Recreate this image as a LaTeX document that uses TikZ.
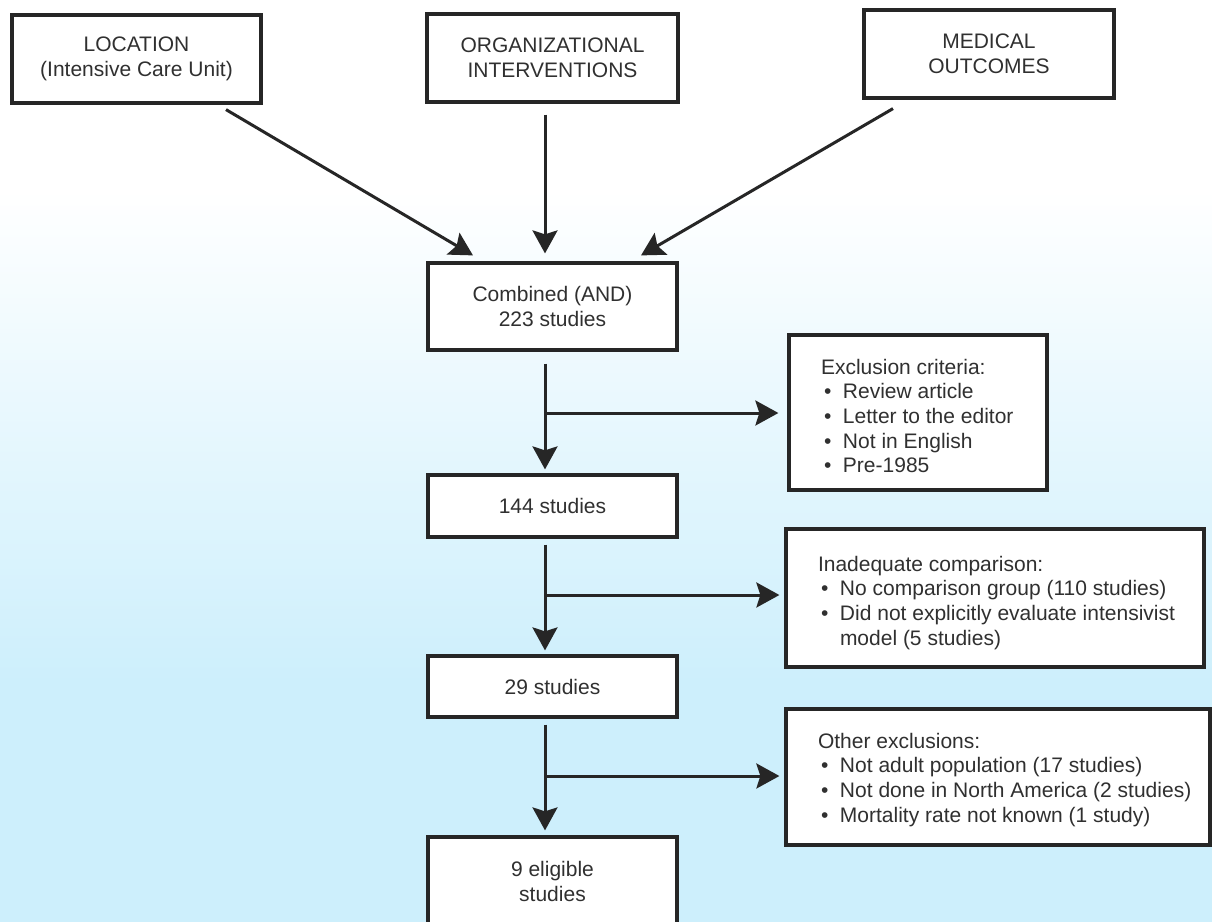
\documentclass[tikz,border=0pt]{standalone}
\usepackage{fontspec}
\setmainfont{Liberation Sans}
\usetikzlibrary{arrows.meta}
\definecolor{bgblue}{RGB}{205,239,252}
\definecolor{ink}{RGB}{38,38,38}
\definecolor{txt}{RGB}{48,48,48}
% bullet line with a fixed indent, never broken
\newcommand\bitem[1]{\mbox{\makebox[11pt][l]{\hspace{1.5pt}\textbullet}#1}}
% top-aligned text block of fixed height: height, width, top gap, body
\newcommand\listbox[4]{\begin{minipage}[c][#1][t]{#2}\fontsize{10.5pt}{12.3pt}\selectfont\vspace*{#3}#4\end{minipage}}
\begin{document}
\begin{tikzpicture}[x=0.5pt,y=-0.5pt,
  box/.style={draw=ink, line width=1.6pt, fill=white, text=txt, inner sep=0pt,
    align=center, font=\fontsize{10.5pt}{12.5pt}\selectfont},
  listnode/.style={draw=ink, line width=1.6pt, fill=white, text=txt,
    inner xsep=16pt, inner ysep=0pt},
  arr/.style={draw=ink, line width=1.5pt,
    -{Stealth[length=11.5pt,width=12.5pt,inset=2pt]}},
]
\useasboundingbox (0,0) rectangle (1212,922);
% background: white above, fading into pale blue below
\fill[white] (0,0) rectangle (1212,192);
\shade[top color=white, bottom color=bgblue] (0,190) rectangle (1212,682);
\fill[bgblue] (0,680) rectangle (1212,922);

% search terms
\node[box, minimum width=124.5pt, minimum height=44pt] (loc) at (136.5,59) {LOCATION\\(Intensive Care Unit)};
\node[box, minimum width=125.5pt, minimum height=44pt] (org) at (552.5,58) {ORGANIZATIONAL\\INTERVENTIONS};
\node[box, minimum width=125pt, minimum height=44pt] (med) at (989,54) {MEDICAL\\OUTCOMES};

% main column
\node[box, minimum width=124.5pt, minimum height=43.5pt] (comb) at (552.5,306.5) {Combined (AND)\\223 studies};
\node[box, minimum width=124.5pt, minimum height=31pt] (s144) at (552.5,506) {144 studies};
\node[box, minimum width=124.5pt, minimum height=30.5pt] (s29) at (552.5,686.5) {29 studies};
\node[box, minimum width=124.5pt, minimum height=44.5pt] (s9) at (552.5,881.5) {9 eligible\\studies};

% exclusion boxes
\node[listnode] (excl) at (918,412.5) {\listbox{77.5pt}{97pt}{12pt}{%
  Exclusion criteria:\\
  \bitem{Review article}\\
  \bitem{Letter to the editor}\\
  \bitem{Not in English}\\
  \bitem{Pre-1985}}};
\node[listnode] (inad) at (995,598) {\listbox{69pt}{177pt}{13.5pt}{%
  Inadequate comparison:\\
  \bitem{No comparison group (110 studies)}\\
  \bitem{Did not explicitly evaluate intensivist}\\
  \hspace*{11pt}model (5 studies)}};
\node[listnode] (other) at (998,777) {\listbox{68pt}{180pt}{12pt}{%
  Other exclusions:\\
  \bitem{Not adult population (17 studies)}\\
  \bitem{Not done in North America (2 studies)}\\
  \bitem{Mortality rate not known (1 study)}}};

% inputs into the combined search
\draw[arr] ([xshift=44.75pt,yshift=-2.5pt]loc.south) -- ([xshift=-39.75pt,yshift=3pt]comb.north);
\draw[arr] ([xshift=-3.75pt,yshift=-5.5pt]org.south) -- ([xshift=-3.75pt,yshift=4pt]comb.north);
\draw[arr] ([xshift=-48pt,yshift=-4.5pt]med.south) -- ([xshift=44.25pt,yshift=3pt]comb.north);

% spine with side branches
\draw[arr] ([xshift=-3.75pt,yshift=-6pt]comb.south) -- ([xshift=-3.75pt,yshift=2pt]s144.north);
\draw[arr] ([xshift=-3.75pt,yshift=-3pt]s144.south) -- ([xshift=-3.75pt,yshift=2pt]s29.north);
\draw[arr] ([xshift=-3.75pt,yshift=-3pt]s29.south) -- ([xshift=-3.75pt,yshift=2.5pt]s9.north);

\coordinate (j1) at (545,413);
\coordinate (j2) at (545,595);
\coordinate (j3) at (545,776);
\draw[arr] (j1) -- ([xshift=-4.5pt]excl.west |- j1);
\draw[arr] (j2) -- ([xshift=-2.5pt]inad.west |- j2);
\draw[arr] (j3) -- ([xshift=-2.5pt]other.west |- j3);
\end{tikzpicture}
\end{document}
